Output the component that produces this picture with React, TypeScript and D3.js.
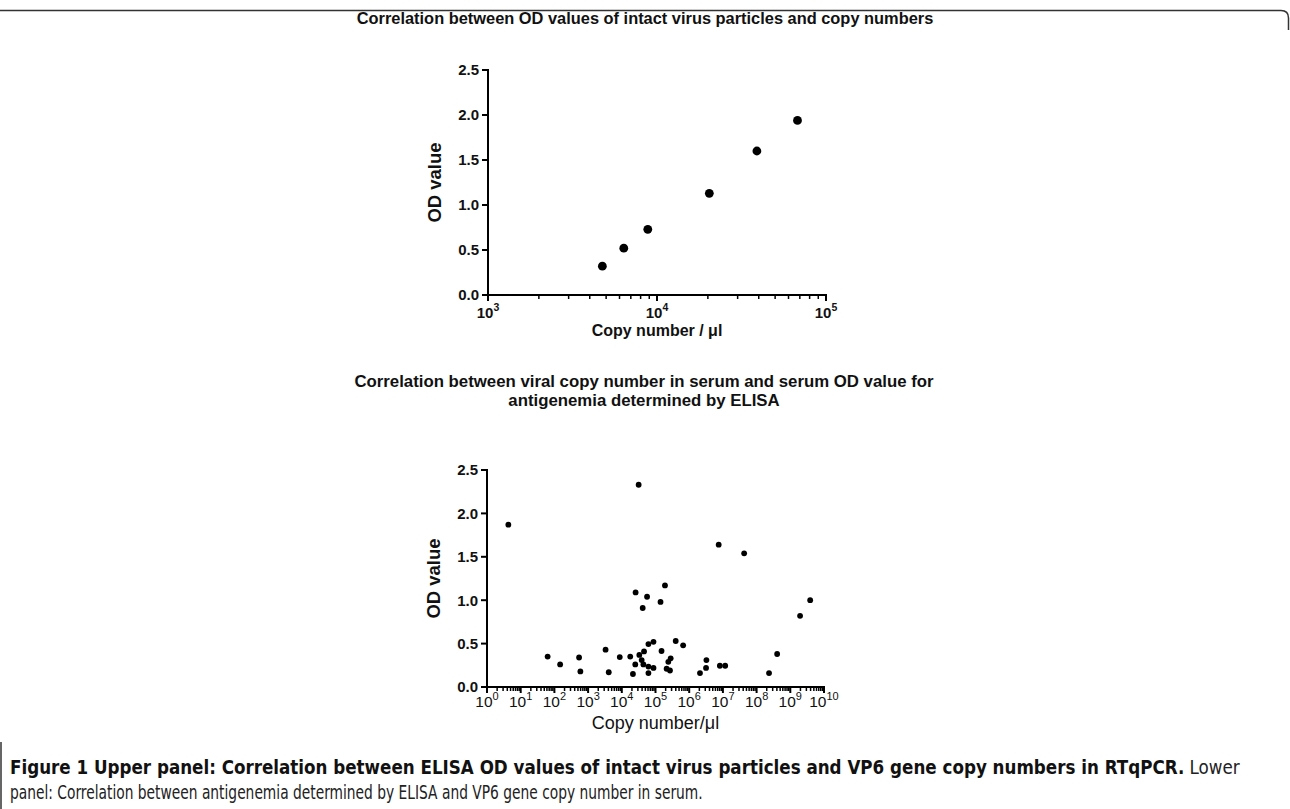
import React, { useLayoutEffect, useRef, useState } from "react";
import * as d3 from "d3";

// ---------- Data ----------
// Upper panel: intact virus particles
const topCopies = [4750, 6360, 8820, 20400, 39000, 67800];
const topOD = [0.32, 0.52, 0.73, 1.13, 1.6, 1.94];

// Lower panel: serum samples
const botCopies = [
  4.3, 63, 148, 540, 590, 3300, 4100, 8700, 17800, 21400, 25100, 25700,
  31600, 33100, 38900, 41700, 43700, 45700, 56200, 61700, 61700, 61700,
  87100, 87100, 141000, 151000, 191000, 214000, 269000, 240000, 282000,
  398000, 661000, 2090000, 3160000, 3240000, 7500000, 8130000, 11700000,
  42700000, 234000000, 407000000, 1950000000, 3890000000,
];
const botOD = [
  1.87, 0.35, 0.26, 0.34, 0.18, 0.43, 0.17, 0.345, 0.35, 0.15, 0.26, 1.09,
  2.33, 0.37, 0.31, 0.91, 0.26, 0.41, 1.04, 0.495, 0.235, 0.16,
  0.52, 0.22, 0.98, 0.415, 1.17, 0.21, 0.19, 0.29, 0.33,
  0.53, 0.48, 0.16, 0.22, 0.31, 1.64, 0.245, 0.245,
  1.54, 0.16, 0.38, 0.82, 1.0,
];

const yTicks = [0, 0.5, 1.0, 1.5, 2.0, 2.5];
const topExps = [3, 4, 5];
const botExps = [0, 1, 2, 3, 4, 5, 6, 7, 8, 9, 10];

const topTitle = "Correlation between OD values of intact virus particles and copy numbers";
const botTitle1 = "Correlation between viral copy number in serum and serum OD value for";
const botTitle2 = "antigenemia determined by ELISA";
const captionBold = "Figure 1 Upper panel: Correlation between ELISA OD values of intact virus particles and VP6 gene copy numbers in RTqPCR.";
const captionRest1 = " Lower";
const captionLine2 = "panel: Correlation between antigenemia determined by ELISA and VP6 gene copy number in serum.";

const FONT = "'Liberation Sans', Arial, sans-serif";
const CAP_FONT = "'Liberation Sans Narrow', 'DejaVu Sans Condensed', 'Liberation Sans', sans-serif";

function minorTicks(exps: number[]) {
  const out: number[] = [];
  for (let i = 0; i < exps.length - 1; i++) {
    for (let m = 2; m <= 9; m++) out.push(m * Math.pow(10, exps[i]));
  }
  return out;
}

type PanelProps = {
  x: d3.ScaleLogarithmic<number, number>;
  y: d3.ScaleLinear<number, number>;
  exps: number[];
  xs: number[];
  ys: number[];
  r: number;
  yTickFont: number;
  xTickFont: number;
  tickWeight: string;
  xLabelFont: number;
  xLabelWeight: string;
  xLabel: string;
  xLabelY: number;
  xTickY: number;
  supSize: number;
};

function Panel(p: PanelProps) {
  const [x0, x1] = p.x.range();
  const [y0, y1] = p.y.range();
  const minors = minorTicks(p.exps);
  const cx = (x0 + x1) / 2;
  const cy = (y0 + y1) / 2;
  return (
    <g>
      <line x1={x0} x2={x0} y1={y1 - 1} y2={y0 + 1} stroke="#000" strokeWidth={2} />
      {yTicks.map((t) => (
        <g key={"y" + t}>
          <line x1={x0 - 6} x2={x0} y1={p.y(t)} y2={p.y(t)} stroke="#000" strokeWidth={2} />
          <text
            x={x0 - 9}
            y={p.y(t)}
            dy="0.36em"
            textAnchor="end"
            fontFamily={FONT}
            fontWeight="bold"
            fontSize={p.yTickFont}
            fill="#111"
          >
            {t.toFixed(1)}
          </text>
        </g>
      ))}
      <text
        transform={`translate(${x0 - 54},${cy}) rotate(-90)`}
        textAnchor="middle"
        dy="0.36em"
        fontFamily={FONT}
        fontWeight="bold"
        fontSize={18.5}
        fill="#111"
      >
        OD value
      </text>
      <line x1={x0 - 1} x2={x1 + 1} y1={y0} y2={y0} stroke="#000" strokeWidth={2} />
      {minors.map((m) => (
        <line key={"m" + m} x1={p.x(m)} x2={p.x(m)} y1={y0} y2={y0 + 4} stroke="#000" strokeWidth={1.5} />
      ))}
      {p.exps.map((e) => (
        <g key={"e" + e}>
          <line x1={p.x(Math.pow(10, e))} x2={p.x(Math.pow(10, e))} y1={y0} y2={y0 + 6} stroke="#000" strokeWidth={2} />
          <text
            x={p.x(Math.pow(10, e))}
            y={p.xTickY}
            textAnchor="middle"
            fontFamily={FONT}
            fontWeight={p.tickWeight}
            fontSize={p.xTickFont}
            fill="#111"
          >
            10
            <tspan dy={-7} fontSize={p.supSize}>
              {String(e)}
            </tspan>
          </text>
        </g>
      ))}
      <text
        x={cx}
        y={p.xLabelY}
        textAnchor="middle"
        fontFamily={FONT}
        fontWeight={p.xLabelWeight}
        fontSize={p.xLabelFont}
        fill="#111"
      >
        {p.xLabel}
      </text>
      {p.xs.map((v, i) => (
        <circle key={"p" + i} cx={p.x(v)} cy={p.y(p.ys[i])} r={p.r} fill="#000" />
      ))}
    </g>
  );
}

export default function App() {
  const xTop = d3.scaleLog().domain([1e3, 1e5]).range([488, 826]);
  const yTop = d3.scaleLinear().domain([0, 2.5]).range([295, 70]);
  const xBot = d3.scaleLog().domain([1, 1e10]).range([487, 824]);
  const yBot = d3.scaleLinear().domain([0, 2.5]).range([687, 470]);

  const cap1 = useRef<SVGTextElement>(null);
  const cap2 = useRef<SVGTextElement>(null);
  const [s1, setS1] = useState(1);
  const [s2, setS2] = useState(1);
  useLayoutEffect(() => {
    if (cap1.current) {
      const L = cap1.current.getComputedTextLength();
      if (L > 0) setS1(1230 / L);
    }
    if (cap2.current) {
      const L = cap2.current.getComputedTextLength();
      if (L > 0) setS2(693 / L);
    }
  }, []);

  return (
    <div style={{ position: "absolute", left: 0, top: 0 }}>
      <svg width={1290} height={809} style={{ display: "block", background: "#fff" }}>
        <path d="M0,10.5 H1281 Q1288.5,10.5 1288.5,18 V30" fill="none" stroke="#333" strokeWidth={1.5} />
        <line x1={1} x2={1} y1={742} y2={809} stroke="#333" strokeWidth={1.5} />

        <text x={645} y={24} textAnchor="middle" fontFamily={FONT} fontWeight="bold" fontSize={16.4} fill="#111">
          {topTitle}
        </text>
        <Panel
          x={xTop}
          y={yTop}
          exps={topExps}
          xs={topCopies}
          ys={topOD}
          r={4.4}
          yTickFont={15}
          xTickFont={15}
          tickWeight="bold"
          xLabelFont={16}
          xLabelWeight="bold"
          xLabel="Copy number / μl"
          xLabelY={336}
          xTickY={318}
          supSize={10.5}
        />

        <text x={644} y={387} textAnchor="middle" fontFamily={FONT} fontWeight="bold" fontSize={16.8} fill="#111">
          {botTitle1}
        </text>
        <text x={644} y={406} textAnchor="middle" fontFamily={FONT} fontWeight="bold" fontSize={16.8} fill="#111">
          {botTitle2}
        </text>
        <Panel
          x={xBot}
          y={yBot}
          exps={botExps}
          xs={botCopies}
          ys={botOD}
          r={2.9}
          yTickFont={15}
          xTickFont={15.5}
          tickWeight="normal"
          xLabelFont={18}
          xLabelWeight="normal"
          xLabel="Copy number/μl"
          xLabelY={729}
          xTickY={707}
          supSize={11}
        />

        <g transform={`translate(10,774) scale(${s1},1)`}>
          <text ref={cap1} x={0} y={0} fontFamily={CAP_FONT} fontSize={19} fill="#111">
            <tspan fontWeight="bold">{captionBold}</tspan>
            <tspan fill="#222">{captionRest1}</tspan>
          </text>
        </g>
        <g transform={`translate(10,799) scale(${s2},1)`}>
          <text ref={cap2} x={0} y={0} fontFamily={CAP_FONT} fontSize={19} fill="#222">
            {captionLine2}
          </text>
        </g>
      </svg>
    </div>
  );
}
